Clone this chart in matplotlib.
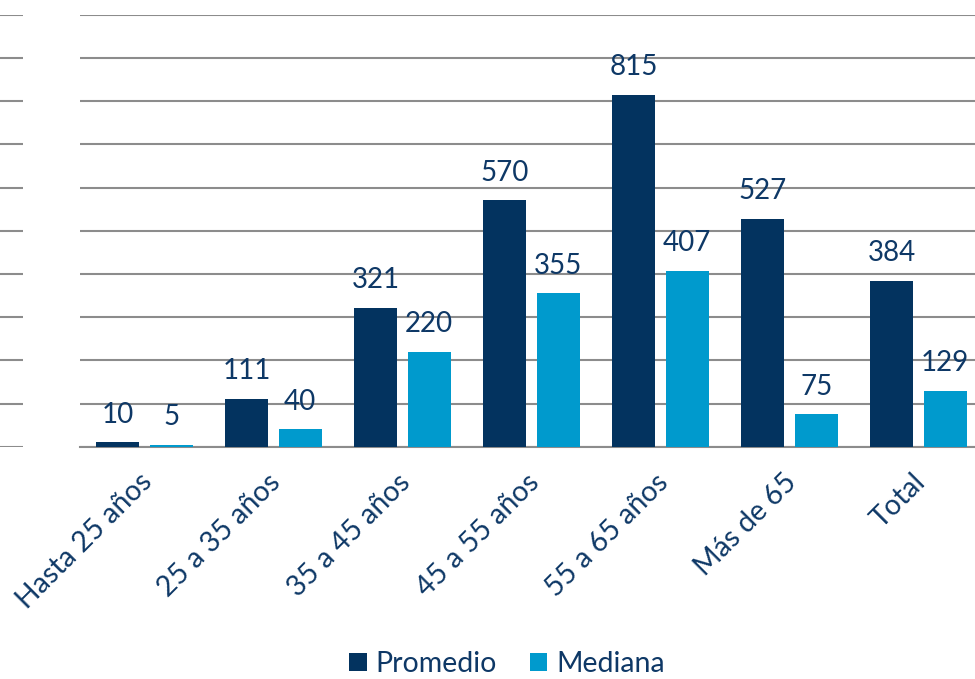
import matplotlib.pyplot as plt
import matplotlib.transforms as mtransforms
import numpy as np

categorias = ["Hasta 25 años", "25 a 35 años", "35 a 45 años", "45 a 55 años",
              "55 a 65 años", "Más de 65", "Total"]
promedio = [10, 111, 321, 570, 815, 527, 384]
mediana = [5, 40, 220, 355, 407, 75, 129]

c_prom = "#03335F"
c_med = "#009ACD"
c_txt = "#0E3866"
c_grid = "#8C8C8C"

plt.rcParams['font.family'] = ['Lato', 'DejaVu Sans']

fig = plt.figure(figsize=(9.75, 6.79), dpi=100)
W, H = 975, 679
bot = (H - 446.7) / H
alto = (446.7 - 14.7) / H

ax = fig.add_axes([80 / W, bot, (W - 80) / W, alto])
x = np.arange(len(categorias))
ancho = 0.333
b1 = ax.bar(x - 0.207, promedio, ancho, color=c_prom, label="Promedio", zorder=3)
b2 = ax.bar(x + 0.207, mediana, ancho, color=c_med, label="Mediana", zorder=3)
ax.bar_label(b1, padding=10.5, fontsize=20, color=c_txt)
ax.bar_label(b2, padding=10.5, fontsize=20, color=c_txt)

ax.set_ylim(0, 1000)
ax.set_xlim(-0.5, 6.5 - 8 / 129)
ax.set_yticks(np.arange(0, 1001, 100))
ax.yaxis.grid(True, color=c_grid, linewidth=1.5)
ax.set_axisbelow(True)
ax.tick_params(axis='y', left=False, labelleft=False)
ax.tick_params(axis='x', length=0, pad=16)
ax.set_xticks(x)
ax.set_xticklabels(categorias, rotation=45, ha='right', rotation_mode='anchor',
                   fontsize=20.5, color=c_txt)
# desplazar un poco las etiquetas hacia la izquierda
desp = mtransforms.ScaledTranslation(-6 / 100, 0, fig.dpi_scale_trans)
for lab in ax.get_xticklabels():
    lab.set_transform(lab.get_transform() + desp)
for s in ['top', 'right', 'left']:
    ax.spines[s].set_visible(False)
ax.spines['bottom'].set_color(c_grid)
ax.spines['bottom'].set_linewidth(1.5)

# trozo de rejilla a la izquierda (recortado en el original)
ax2 = fig.add_axes([0, bot, 23 / W, alto])
ax2.set_ylim(0, 1000)
ax2.set_yticks(np.arange(0, 1001, 100))
ax2.yaxis.grid(True, color=c_grid, linewidth=1.5)
ax2.tick_params(left=False, bottom=False, labelleft=False, labelbottom=False)
for s in ax2.spines.values():
    s.set_visible(False)

leg = fig.legend(loc='center', bbox_to_anchor=(507 / W, 1 - 664 / H), ncol=2,
                 frameon=False, fontsize=20.5, handlelength=0.62, handleheight=0.62,
                 handletextpad=0.3, columnspacing=1.15, borderpad=0.1)
for t in leg.get_texts():
    t.set_color(c_txt)

fig.savefig("out.png", dpi=100)
